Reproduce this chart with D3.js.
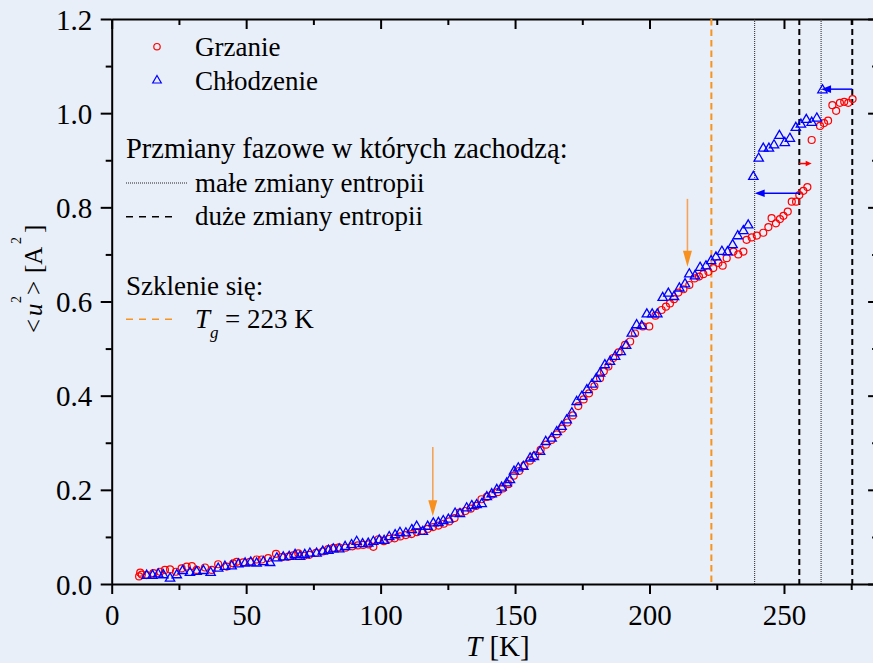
<!DOCTYPE html>
<html>
<head>
<meta charset="utf-8">
<script src="https://cdn.jsdelivr.net/npm/d3@7"></script>
<style>
  html, body { margin: 0; padding: 0; background: #e9eff8; }
  svg { display: block; font-family: "Liberation Serif", "Times New Roman", serif; }
</style>
</head>
<body>
<svg id="chart" width="873" height="663"></svg>
<script>
// Mean-square displacement <u^2> versus temperature, heating and cooling runs
const heatT = [10.2,10.6,11.2,13,15.5,18,19.8,21.7,23.9,26,27.9,29.8,31.6,34.7,37.2,39.6,42.8,45.2,46.5,48.9,51.4,53.9,55.8,58.2,61.1,63.2,65.7,67.5,69.4,71.5,73.5,76,78.5,80.5,82.5,84.5,87,89.5,91.5,93.5,95.5,97.3,99.2,101.2,103.2,105.2,107.3,109.4,111.5,113.5,115.5,117.5,119.5,121.5,123.5,125.5,127.5,129.5,131.5,133.5,135.5,137.5,139.5,141.5,143.5,145.5,147.5,149.5,151.5,153.5,155.5,157.5,159.5,161.5,163.5,165.5,167.5,169.5,171.5,173.5,175.5,177.5,179.5,181.6,183,184.7,186.5,188.5,190.9,192.8,194.6,197.5,199.9,202.2,204.5,206.1,207.6,209.1,210.7,212.6,214.8,216.7,218.4,220,221.9,223.7,225.6,227.2,228.7,231.2,233,234.9,236.1,238,239.9,242.3,244.2,245.4,247,248.5,249.8,251.4,252.9,254.5,255.7,257.2,258.7,260.3,263.4,264.9,266.4,268,269.4,270.8,272.4,273.9,275.5];
const heatU = [0.016,0.024,0.020,0.019,0.023,0.026,0.030,0.031,0.026,0.033,0.037,0.038,0.030,0.035,0.030,0.042,0.037,0.044,0.047,0.046,0.047,0.052,0.052,0.055,0.064,0.057,0.058,0.061,0.065,0.060,0.062,0.066,0.069,0.074,0.077,0.078,0.077,0.080,0.082,0.083,0.084,0.079,0.095,0.091,0.096,0.097,0.101,0.104,0.106,0.110,0.113,0.117,0.121,0.124,0.128,0.133,0.140,0.152,0.155,0.160,0.166,0.180,0.185,0.190,0.195,0.203,0.212,0.230,0.240,0.252,0.262,0.273,0.285,0.296,0.306,0.318,0.330,0.343,0.358,0.378,0.392,0.405,0.420,0.437,0.452,0.462,0.480,0.492,0.508,0.515,0.532,0.547,0.547,0.570,0.582,0.589,0.596,0.605,0.619,0.626,0.635,0.649,0.653,0.658,0.663,0.671,0.682,0.676,0.692,0.706,0.700,0.706,0.731,0.736,0.740,0.746,0.758,0.777,0.766,0.775,0.782,0.791,0.812,0.812,0.826,0.835,0.843,0.943,0.973,0.979,0.984,1.017,1.005,1.022,1.024,1.022,1.030];

const coolT = [13,15.2,17.3,19.2,21.7,24.2,26.4,29.1,31.6,34.1,36.8,39.6,42.1,44.6,47.1,49.6,51.7,53.9,56.4,58.9,61.4,63.8,66,68.2,70,71.8,73.7,76.2,78.5,80.6,82.4,84.6,86.8,89.2,91.1,93.3,95.4,97.3,99.5,101.3,103.2,105.4,107.2,109.4,111.6,113.4,115.7,117.5,119.6,121.5,123.3,125.2,127.7,129.5,132,133.9,135.7,137.6,139.5,141.3,143.2,145,146.9,148.1,149.6,151.2,153.1,155.6,157,159.3,161.4,163.6,165.5,167.3,169.2,171.1,172.9,174.8,176.7,178.6,180.2,181.6,183.4,185.3,187.2,189.3,191.3,193.4,195.2,197.1,199,201,202.9,204.9,207,209.1,211.1,213.2,214.8,216.9,218.8,221,222.9,224.7,226.9,229,230.9,232.8,234.9,236.7,238.6,240.6,242.3,244.4,246.3,248.3,250.3,252.2,254.4,256.3,258.3,260.3,262.2,264.3];
const coolU = [0.018,0.018,0.021,0.019,0.012,0.019,0.028,0.024,0.026,0.028,0.024,0.033,0.037,0.038,0.042,0.044,0.046,0.044,0.047,0.045,0.055,0.057,0.058,0.062,0.058,0.062,0.065,0.065,0.069,0.071,0.074,0.074,0.079,0.083,0.090,0.085,0.086,0.090,0.093,0.092,0.100,0.104,0.109,0.108,0.115,0.122,0.111,0.122,0.129,0.130,0.134,0.137,0.150,0.149,0.161,0.166,0.168,0.170,0.185,0.191,0.200,0.205,0.214,0.221,0.239,0.246,0.249,0.267,0.270,0.281,0.302,0.309,0.323,0.334,0.348,0.363,0.387,0.398,0.412,0.424,0.436,0.4475,0.465,0.472,0.483,0.493,0.506,0.532,0.550,0.548,0.573,0.573,0.573,0.608,0.617,0.610,0.628,0.637,0.658,0.654,0.672,0.675,0.686,0.694,0.706,0.705,0.720,0.739,0.750,0.762,0.865,0.904,0.925,0.925,0.932,0.952,0.937,0.946,0.969,0.976,0.986,0.980,0.989,1.049];

const xMajorTicks = [0, 50, 100, 150, 200, 250];
const xMinorTicks = [25, 75, 125, 175, 225, 275];
const yMajorTicks = [0, 0.2, 0.4, 0.6, 0.8, 1.0, 1.2];
const yMinorTicks = [0.1, 0.3, 0.5, 0.7, 0.9, 1.1];

// Glass transition and phase transitions (K)
const glassT = 223;
const smallEntropyT = [239.1, 263.8];
const largeEntropyT = [255.7, 275.4];

// Annotation arrows in data units
const orangeArrowT = [119.4, 214.1];
const orangeArrowTop = [0.291, 0.818];
const orangeArrowTip = [0.144, 0.674];
const shiftArrowU = [0.830, 1.051, 0.893];
const shiftArrowFrom = [255.7, 275.4, 255.7];
const shiftArrowTo = [239.1, 263.8, 260.3];
const shiftArrowColor = ["#0000ff", "#0000ff", "#ff0000"];

const svg = d3.select("#chart");
const W = 873, H = 663;
svg.append("rect").attr("width", W).attr("height", H).attr("fill", "#e9eff8");

const x = d3.scaleLinear().domain([0, 285]).range([111.7, 878.1]);
const y = d3.scaleLinear().domain([0, 1.2]).range([584, 19]);

const FONT = 29;

function styleAxis(g) {
  g.selectAll("path.domain").attr("stroke", "#000").attr("stroke-width", 2);
  g.selectAll(".tick line").attr("stroke", "#000").attr("stroke-width", 2);
  g.selectAll("text").attr("fill", "#000").style("font-family", "Liberation Serif").style("font-size", FONT + "px");
}

// Bottom axis
const gb = svg.append("g").attr("transform", `translate(0,${y(0)})`)
  .call(d3.axisBottom(x).tickValues(xMajorTicks).tickSize(10).tickSizeOuter(0).tickFormat(d3.format("d")));
styleAxis(gb);
gb.selectAll("text").attr("y", 41).attr("dy", 0);
const gbm = svg.append("g").attr("transform", `translate(0,${y(0)})`)
  .call(d3.axisBottom(x).tickValues(xMinorTicks).tickSize(6).tickFormat(""));
gbm.select("path.domain").remove();
styleAxis(gbm);

// Top axis (inward ticks)
const gt = svg.append("g").attr("transform", `translate(0,${y(1.2)})`)
  .call(d3.axisTop(x).tickValues(xMajorTicks).tickSizeInner(-10).tickSizeOuter(0).tickFormat(""));
styleAxis(gt);
const gtm = svg.append("g").attr("transform", `translate(0,${y(1.2)})`)
  .call(d3.axisTop(x).tickValues(xMinorTicks).tickSizeInner(-6).tickSizeOuter(0).tickFormat(""));
gtm.select("path.domain").remove();
styleAxis(gtm);

// Left axis
const gl = svg.append("g").attr("transform", `translate(${x(0)},0)`)
  .call(d3.axisLeft(y).tickValues(yMajorTicks).tickSize(11).tickSizeOuter(0).tickFormat(d3.format(".1f")));
styleAxis(gl);
gl.selectAll("text").attr("x", -19.5).attr("dy", "0.35em");
const glm = svg.append("g").attr("transform", `translate(${x(0)},0)`)
  .call(d3.axisLeft(y).tickValues(yMinorTicks).tickSize(6).tickFormat(""));
glm.select("path.domain").remove();
styleAxis(glm);

// Right axis (inward ticks)
const gr = svg.append("g").attr("transform", `translate(${x(285)},0)`)
  .call(d3.axisRight(y).tickValues(yMajorTicks).tickSizeInner(-10).tickSizeOuter(0).tickFormat(""));
styleAxis(gr);
const grm = svg.append("g").attr("transform", `translate(${x(285)},0)`)
  .call(d3.axisRight(y).tickValues(yMinorTicks).tickSizeInner(-6).tickSizeOuter(0).tickFormat(""));
grm.select("path.domain").remove();
styleAxis(grm);

// Vertical reference lines
const vlines = svg.append("g");
vlines.append("line").attr("x1", x(glassT)).attr("x2", x(glassT)).attr("y1", y(1.2)).attr("y2", y(0))
  .attr("stroke", "#f7941d").attr("stroke-width", 2).attr("stroke-dasharray", "6.5,4");
vlines.selectAll("line.small").data(smallEntropyT).join("line").attr("class", "small")
  .attr("x1", d => x(d)).attr("x2", d => x(d)).attr("y1", y(1.2)).attr("y2", y(0))
  .attr("stroke", "#222").attr("stroke-width", 1).attr("stroke-dasharray", "1,1");
vlines.selectAll("line.large").data(largeEntropyT).join("line").attr("class", "large")
  .attr("x1", d => x(d)).attr("x2", d => x(d)).attr("y1", y(1.2)).attr("y2", y(0))
  .attr("stroke", "#000").attr("stroke-width", 2).attr("stroke-dasharray", "6,4");

// Data markers
const triangle = d3.symbol().type(d3.symbolTriangle).size(38);
svg.append("g").selectAll("circle").data(heatT).join("circle")
  .attr("cx", d => x(d)).attr("cy", (d, i) => y(heatU[i])).attr("r", 3.5)
  .attr("fill", "none").attr("stroke", "#ff0000").attr("stroke-width", 1.2);
svg.append("g").selectAll("path").data(coolT).join("path")
  .attr("d", triangle).attr("transform", (d, i) => `translate(${x(d)},${y(coolU[i])})`)
  .attr("fill", "none").attr("stroke", "#0000ff").attr("stroke-width", 1.3);

// Orange arrows (vertical, pointing down)
const oa = svg.append("g");
orangeArrowT.forEach((t, i) => {
  const cx = x(t), yTop = y(orangeArrowTop[i]), yTip = y(orangeArrowTip[i]);
  const headLen = 16, halfW = 4.5;
  oa.append("line").attr("x1", cx).attr("x2", cx).attr("y1", yTop).attr("y2", yTip - headLen + 2)
    .attr("stroke", "#f5a35a").attr("stroke-width", 1.6);
  oa.append("path").attr("d", `M${cx - halfW},${yTip - headLen}L${cx + halfW},${yTip - headLen}L${cx},${yTip}Z`)
    .attr("fill", "#f7901e");
});

// Horizontal arrows marking hysteresis shifts
const ha = svg.append("g");
shiftArrowU.forEach((u, i) => {
  const yy = y(u), x0 = x(shiftArrowFrom[i]), x1 = x(shiftArrowTo[i]);
  const dir = Math.sign(x1 - x0);
  const headLen = i === 2 ? 6 : 10, halfW = i === 2 ? 2.8 : 3.8;
  ha.append("line").attr("x1", x0).attr("x2", x1 - dir * (headLen - 1)).attr("y1", yy).attr("y2", yy)
    .attr("stroke", shiftArrowColor[i]).attr("stroke-width", 1.5);
  ha.append("path").attr("d", `M${x1 - dir * headLen},${yy - halfW}L${x1},${yy}L${x1 - dir * headLen},${yy + halfW}Z`)
    .attr("fill", shiftArrowColor[i]);
});

// Legend
const lg = svg.append("g").style("font-size", "27px").attr("fill", "#000");
lg.append("circle").attr("cx", 157).attr("cy", 46.7).attr("r", 3.2)
  .attr("fill", "none").attr("stroke", "#ff0000").attr("stroke-width", 1.2);
lg.append("text").attr("x", 195).attr("y", 56).text("Grzanie");
lg.append("path").attr("d", d3.symbol().type(d3.symbolTriangle).size(32)).attr("transform", "translate(157,80.5)")
  .attr("fill", "none").attr("stroke", "#0000ff").attr("stroke-width", 1.2);
lg.append("text").attr("x", 195).attr("y", 90).text("Chłodzenie");
lg.append("text").attr("x", 126).attr("y", 158).style("font-size", "28.5px").text("Przmiany fazowe w których zachodzą:");
lg.append("line").attr("x1", 126).attr("x2", 188).attr("y1", 183).attr("y2", 183)
  .attr("stroke", "#222").attr("stroke-width", 1).attr("stroke-dasharray", "1,1");
lg.append("text").attr("x", 195).attr("y", 192).text("małe zmiany entropii");
lg.append("line").attr("x1", 126).attr("x2", 175).attr("y1", 216.7).attr("y2", 216.7)
  .attr("stroke", "#000").attr("stroke-width", 1.5).attr("stroke-dasharray", "7,6");
lg.append("text").attr("x", 195).attr("y", 225).text("duże zmiany entropii");
lg.append("text").attr("x", 126).attr("y", 295).text("Szklenie się:");
lg.append("line").attr("x1", 126).attr("x2", 175).attr("y1", 319.3).attr("y2", 319.3)
  .attr("stroke", "#f7941d").attr("stroke-width", 1.5).attr("stroke-dasharray", "7,6");
const tg = lg.append("text").attr("y", 328);
tg.append("tspan").attr("x", 195).style("font-style", "italic").text("T");
tg.append("tspan").attr("x", 210).attr("y", 338).style("font-style", "italic").style("font-size", "17px").text("g");
tg.append("tspan").attr("x", 225).attr("y", 328).text("= 223 K");

// Axis titles
const xt = svg.append("text").attr("x", 466).attr("y", 656).style("font-size", "29px").attr("fill", "#000");
xt.append("tspan").style("font-style", "italic").text("T");
xt.append("tspan").text(" [K]");

const yt = svg.append("text").attr("transform", "translate(42,333) rotate(-90)")
  .style("font-size", "25px").attr("fill", "#000");
yt.append("tspan").attr("x", 0).attr("y", 0).text("<");
yt.append("tspan").attr("x", 17).attr("y", 0).style("font-style", "italic").text("u");
yt.append("tspan").attr("x", 30).attr("y", -21).style("font-size", "14px").text("2");
yt.append("tspan").attr("x", 38).attr("y", 0).text(">");
yt.append("tspan").attr("x", 60).attr("y", 0).text("[A");
yt.append("tspan").attr("x", 89).attr("y", -21).style("font-size", "14px").text("2");
yt.append("tspan").attr("x", 100).attr("y", 0).text("]");
</script>
</body>
</html>
